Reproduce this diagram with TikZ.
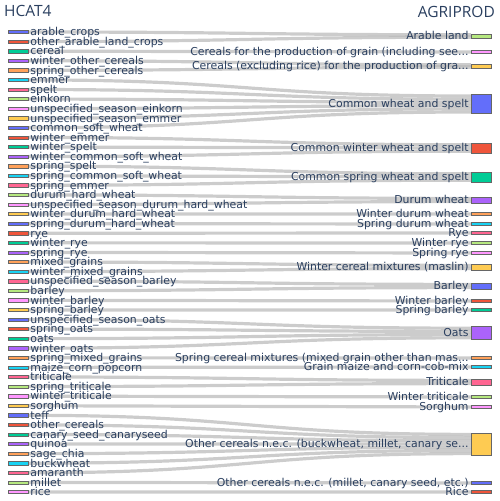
\documentclass[tikz,border=0pt]{standalone}
\usepackage{fontspec}
\setmainfont{DejaVu Sans}
\newfontfamily\titlefont{Open Sans}
\usetikzlibrary{backgrounds}
\definecolor{c1}{HTML}{636EFA}
\definecolor{c2}{HTML}{EF553B}
\definecolor{c3}{HTML}{00CC96}
\definecolor{c4}{HTML}{AB63FA}
\definecolor{c5}{HTML}{FFA15A}
\definecolor{c6}{HTML}{19D3F3}
\definecolor{c7}{HTML}{FF6692}
\definecolor{c8}{HTML}{B6E880}
\definecolor{c9}{HTML}{FF97FF}
\definecolor{c10}{HTML}{FECB52}
\definecolor{plotink}{HTML}{2A3F5F}
\newcommand{\cutoff}{...}

\begin{document}
\begin{tikzpicture}[
  x=1pt, y=-1pt,
  font=\fontsize{10.9}{12}\selectfont,
  lbar/.style={draw=black!60, line width=0.5pt, minimum width=20pt, minimum height=3.3pt, inner sep=0pt},
  rbar/.style={lbar},
  llab/.style={text=plotink, inner sep=2pt, text height=8.5pt, text depth=0.9pt},
  flow/.style={draw=black, draw opacity=0.2, line width=3.2pt},
  ttl/.style={text=plotink, font=\titlefont\fontsize{15.5}{18}\selectfont, inner sep=0pt}
]
\useasboundingbox (0,0) rectangle (500,501);

% column titles
\node[ttl, anchor=west] (hcat) at (4,10.5) {HCAT4};
\node[ttl, anchor=east] (agri) at (495,12) {AGRIPROD};

% HCAT4 categories
\foreach \nm/\txt [count=\i] in {
  arab/arable\_crops, oarab/other\_arable\_land\_crops, cer/cereal,
  wocer/winter\_other\_cereals, socer/spring\_other\_cereals, emm/emmer,
  spe/spelt, ein/einkorn, uein/unspecified\_season\_einkorn,
  uemm/unspecified\_season\_emmer, csw/common\_soft\_wheat, wemm/winter\_emmer,
  wspe/winter\_spelt, wcsw/winter\_common\_soft\_wheat, sspe/spring\_spelt,
  scsw/spring\_common\_soft\_wheat, semm/spring\_emmer, dhw/durum\_hard\_wheat,
  udhw/unspecified\_season\_durum\_hard\_wheat, wdhw/winter\_durum\_hard\_wheat,
  sdhw/spring\_durum\_hard\_wheat, rye/rye, wrye/winter\_rye, srye/spring\_rye,
  mix/mixed\_grains, wmix/winter\_mixed\_grains, ubar/unspecified\_season\_barley,
  bar/barley, wbar/winter\_barley, sbar/spring\_barley,
  uoat/unspecified\_season\_oats, soat/spring\_oats, oat/oats, woat/winter\_oats,
  smix/spring\_mixed\_grains, maize/maize\_corn\_popcorn, trit/triticale,
  strit/spring\_triticale, wtrit/winter\_triticale, sorg/sorghum, teff/teff,
  ocer/other\_cereals, canary/canary\_seed\_canaryseed, quin/quinoa,
  chia/sage\_chia, buck/buckwheat, amar/amaranth, mill/millet, rice/rice}
{
  \pgfmathtruncatemacro\ci{mod(\i-1,10)+1}
  \node[lbar, fill=c\ci, label={[llab]right:\txt}] (\nm) at (18,{32+9.583*(\i-1)}) {};
}

% AGRIPROD categories
\foreach \nm/\txt/\y/\h [count=\j] in {
  pland/Arable land/36/4.3,
  pgrain/Cereals for the production of grain (including see\cutoff/52/3.3,
  pexrice/Cereals (excluding rice) for the production of gra\cutoff/66/4.3,
  pwheat/Common wheat and spelt/104/19,
  pwwheat/Common winter wheat and spelt/148/10,
  pswheat/Common spring wheat and spelt/177/10,
  pdurum/Durum wheat/200/6,
  pwdurum/Winter durum wheat/214/3.3,
  psdurum/Spring durum wheat/224/3.3,
  prye/Rye/233/3.3,
  pwrye/Winter rye/243/3.3,
  psrye/Spring rye/253/3.3,
  pmaslin/Winter cereal mixtures (maslin)/267/6.5,
  pbarley/Barley/286/6.5,
  pwbarley/Winter barley/301/3.3,
  psbarley/Spring barley/310/3.3,
  poats/Oats/333/13,
  psmix/Spring cereal mixtures (mixed grain other than mas\cutoff/358/3.3,
  pmaize/Grain maize and corn-cob-mix/367/3.3,
  ptrit/Triticale/382/6.5,
  pwtrit/Winter triticale/397/3.3,
  psorg/Sorghum/407/3.3,
  pother/{Other cereals n.e.c. (buckwheat, millet, canary se\cutoff}/444/22,
  pother2/{Other cereals n.e.c. (millet, canary seed, etc.)}/483/3.3,
  price/Rice/492/3.3}
{
  \pgfmathtruncatemacro\ci{mod(\j+6,10)+1}
  \node[rbar, fill=c\ci, minimum height=\h pt, label={[llab]left:\txt}] (\nm) at (481,\y) {};
}

% flows
\begin{scope}[on background layer]
\foreach \s/\t/\o in {
  arab/pland/-1.2, oarab/pland/1.2, cer/pgrain/0,
  wocer/pexrice/-1.2, socer/pexrice/1.2,
  emm/pwheat/-8, spe/pwheat/-4.8, ein/pwheat/-1.6, uein/pwheat/1.6,
  uemm/pwheat/4.8, csw/pwheat/8,
  wemm/pwwheat/-3.2, wspe/pwwheat/0, wcsw/pwwheat/3.2,
  sspe/pswheat/-3.2, scsw/pswheat/0, semm/pswheat/3.2,
  dhw/pdurum/-1.6, udhw/pdurum/1.6, wdhw/pwdurum/0, sdhw/psdurum/0,
  rye/prye/0, wrye/pwrye/0, srye/psrye/0,
  mix/pmaslin/-1.6, wmix/pmaslin/1.6,
  ubar/pbarley/-1.6, bar/pbarley/1.6, wbar/pwbarley/0, sbar/psbarley/0,
  uoat/poats/-4.8, soat/poats/-1.6, oat/poats/1.6, woat/poats/4.8,
  smix/psmix/0, maize/pmaize/0,
  trit/ptrit/-1.6, strit/ptrit/1.6, wtrit/pwtrit/0, sorg/psorg/0,
  teff/pother/-9.6, ocer/pother/-6.4, canary/pother/-3.2, quin/pother/0,
  chia/pother/3.2, buck/pother/6.4, amar/pother/9.6,
  mill/pother2/0, rice/price/0}
  \draw[flow] (\s.east) .. controls +(221,0) and +(-221,0) .. ([shift={(0,\o)}]\t.west);
\end{scope}

\end{tikzpicture}
\end{document}
